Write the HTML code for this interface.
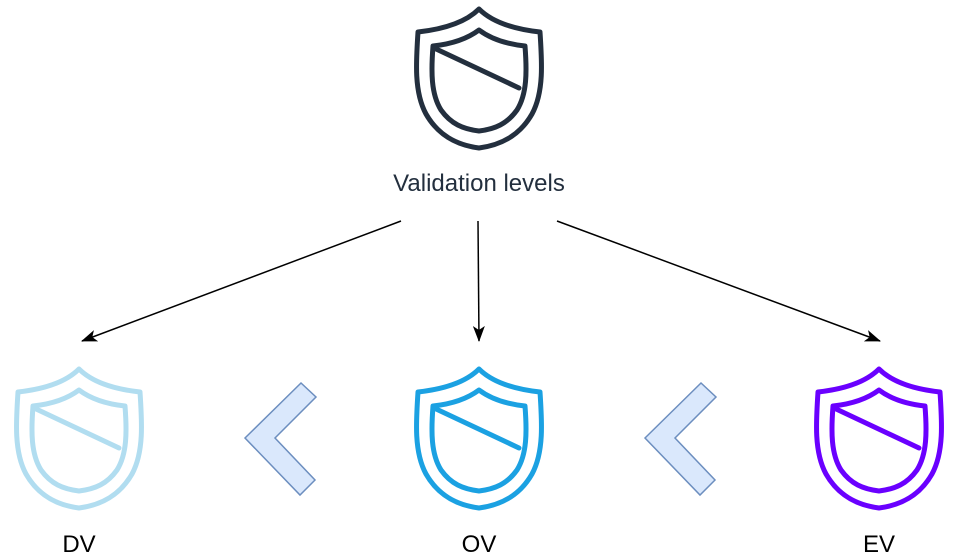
<!DOCTYPE html>
<html><head><meta charset="utf-8"><style>
html,body{margin:0;padding:0;background:#fff;width:958px;height:558px;overflow:hidden}
svg{display:block}
</style></head><body>
<svg width="958" height="558" viewBox="0 0 958 558" xmlns="http://www.w3.org/2000/svg">
<defs>
<g id="sh" fill="none" stroke-width="5" stroke-linejoin="round" stroke-linecap="round">
<path d="M479,9 C466,22 445,29 418,32 C416,62 414,92 426,114 C438,135 456,145 479,148 C502,145 520,135 532,114 C544,92 542,62 540,32 C513,29 492,22 479,9 Z"/>
<path d="M479,30 C467,39 452,44 433,46 C431,72 431,94 441,110 C451,124 463,129 479,131 C495,129 507,124 517,110 C527,94 527,72 525,46 C506,44 491,39 479,30 Z"/>
<path d="M434,48 L519,88"/>
</g>
<marker id="ah" viewBox="0 0 16 12" refX="15" refY="6" markerWidth="16" markerHeight="12" orient="auto" markerUnits="userSpaceOnUse"><path d="M0,0 L16,6 L0,12 L4,6 Z" fill="#000"/></marker>
</defs>
<use href="#sh" stroke="#232F3E"/>
<use href="#sh" stroke="#B1DDF0" transform="translate(-400,360)"/>
<use href="#sh" stroke="#1BA1E2" transform="translate(0,360)"/>
<use href="#sh" stroke="#6A00FF" transform="translate(400,360)"/>
<text x="479" y="191" text-anchor="middle" font-family="Liberation Sans, sans-serif" font-size="24" fill="#232F3E">Validation levels</text>
<g stroke="#000" stroke-width="1.5" fill="none">
<path d="M401,221 L82,341" marker-end="url(#ah)"/>
<path d="M478,221 L479,341" marker-end="url(#ah)"/>
<path d="M557,221 L880,341" marker-end="url(#ah)"/>
</g>
<g fill="#DAE8FC" stroke="#6C8EBF" stroke-width="1.5">
<polygon points="245,438 301,383 316,397 275,438 315,480 300,495"/>
<polygon points="645,438 701,383 716,397 675,438 715,480 700,495"/>
</g>
<g font-family="Liberation Sans, sans-serif" font-size="24" fill="#000" text-anchor="middle">
<text x="79" y="552">DV</text>
<text x="479" y="552">OV</text>
<text x="879" y="552">EV</text>
</g>
</svg>
</body></html>
